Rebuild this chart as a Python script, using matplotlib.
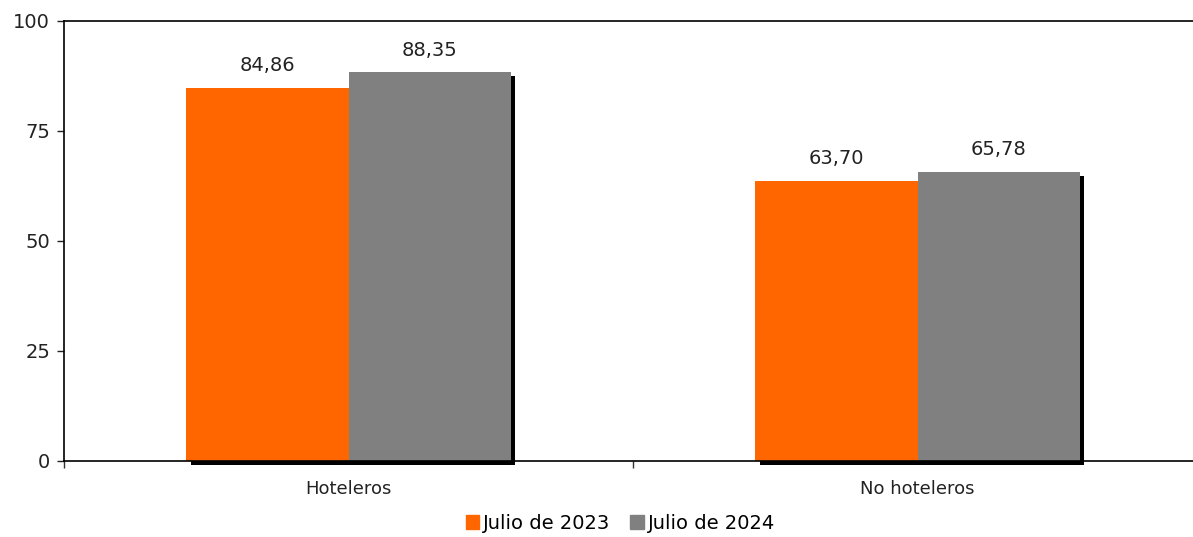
import numpy as np
import matplotlib
matplotlib.use("Agg")
from matplotlib import pyplot as plt
from matplotlib import patheffects as pe
from matplotlib.patches import Patch

# data
categories = ["Hoteleros", "No hoteleros"]
series_names = ["Julio de 2023", "Julio de 2024"]
julio_2023 = [84.86, 63.70]
julio_2024 = [88.35, 65.78]
colors = ["#ff6600", "#808080"]


def fmt(v):
    return f"{v:.2f}".replace(".", ",")


fig = plt.figure(figsize=(11.93, 5.37), dpi=100)
ax = fig.add_axes([64 / 1193, 76 / 537, 1138 / 1193, 440 / 537])

x = np.arange(len(categories))
w = 0.285
shadow = [pe.SimplePatchShadow(offset=(3, -3), shadow_rgbFace="black", alpha=1.0), pe.Normal()]

b1 = ax.bar(x - w / 2, julio_2023, w, color=colors[0],
            path_effects=shadow, zorder=2, clip_on=False)
b2 = ax.bar(x + w / 2, julio_2024, w, color=colors[1],
            path_effects=shadow, zorder=3, clip_on=False)

for bars, vals in ((b1, julio_2023), (b2, julio_2024)):
    for b, v in zip(bars, vals):
        ax.text(b.get_x() + b.get_width() / 2, v + 2.8, fmt(v), ha="center",
                va="bottom", fontsize=14, color="#222222")

ax.set_xlim(-0.5, 1.5)
ax.set_ylim(0, 100)
ax.set_yticks([0, 25, 50, 75, 100])
ax.tick_params(axis="y", labelsize=14, length=5, width=1, pad=5, colors="#222222")
ax.set_xticks(x)
ax.set_xticklabels(categories, fontsize=13)
ax.tick_params(axis="x", length=0, pad=14, colors="#222222")
ax.set_xticks([-0.5, 0.5, 1.5], minor=True)
ax.tick_params(axis="x", which="minor", length=5, width=1, color="#333333")

ax.spines["right"].set_visible(False)
for s in ("left", "top", "bottom"):
    ax.spines[s].set_linewidth(1.2)
    ax.spines[s].set_color("black")
    ax.spines[s].set_zorder(5)

handles = [Patch(color=c) for c in colors]
fig.legend(handles=handles, labels=series_names, loc="center",
           bbox_to_anchor=(0.52, 0.026), ncol=2, frameon=False, fontsize=14,
           handlelength=0.7, handleheight=0.7, handletextpad=0.2, columnspacing=1.0,
           borderpad=0.1)

fig.savefig("out.png", dpi=100)
